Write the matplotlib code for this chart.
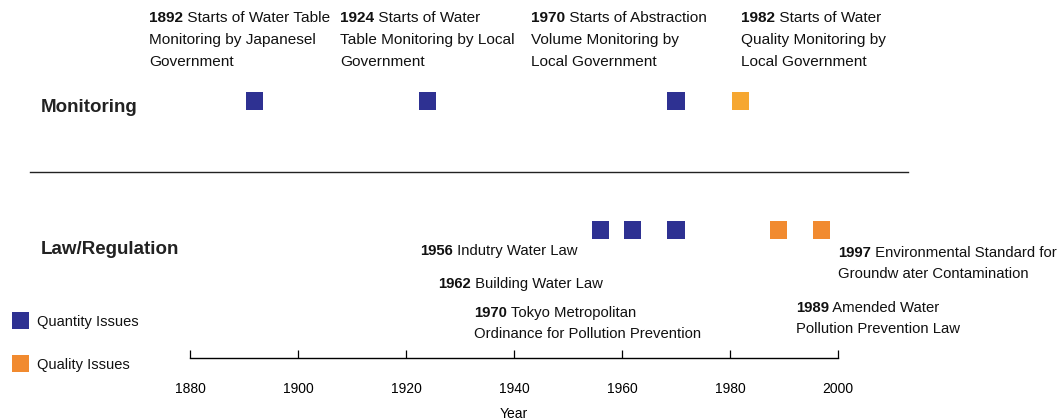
import matplotlib
matplotlib.use('Agg')
import matplotlib.pyplot as plt
import matplotlib.transforms as mtransforms

# data
monitor_years = [1892, 1924, 1970, 1982]
monitor_issue = ['Quantity', 'Quantity', 'Quantity', 'Quality']
monitor_text = [
    ['Starts of Water Table', 'Monitoring by Japanesel', 'Government'],
    ['Starts of Water', 'Table Monitoring by Local', 'Government'],
    ['Starts of Abstraction', 'Volume Monitoring by', 'Local Government'],
    ['Starts of Water', 'Quality Monitoring by', 'Local Government'],
]
law_years = [1956, 1962, 1970, 1989, 1997]
law_issue = ['Quantity', 'Quantity', 'Quantity', 'Quality', 'Quality']
law_text = [
    ['Indutry Water Law'],
    ['Building Water Law'],
    ['Tokyo Metropolitan', 'Ordinance for Pollution Prevention'],
    ['Amended Water', 'Pollution Prevention Law'],
    ['Environmental Standard for', 'Groundw ater Contamination'],
]
year_ticks = [1880, 1900, 1920, 1940, 1960, 1980, 2000]

blue = '#2e3192'
orange_law = '#f18a2f'
orange_mon = '#f6a731'
colors_mon = {'Quantity': blue, 'Quality': orange_mon}
colors_law = {'Quantity': blue, 'Quality': orange_law}

REG = ['Liberation Sans', 'DejaVu Sans']

W, H = 1064, 420
fig = plt.figure(figsize=(W / 100, H / 100), dpi=100)
# pixel transform, origin top-left
pix = mtransforms.Affine2D().scale(1 / 100, -1 / 100).translate(0, H / 100) + fig.dpi_scale_trans

# main axes in year / pixel-row units
x0, x1 = 190, 838
ppy = (x1 - x0) / (2000 - 1880)
ax = fig.add_axes([0, 0, 1, 1])
ax.set_xlim(1880 - x0 / ppy, 1880 + (W - x0) / ppy)
ax.set_ylim(H, 0)
ax.axis('off')

# timeline axis
tl = fig.add_axes([x0 / W, (H - 358) / H, (x1 - x0) / W, 0.0001])
tl.set_xlim(1880, 2000)
tl.set_xticks(year_ticks)
for s in ['top', 'left', 'right']:
    tl.spines[s].set_visible(False)
tl.spines['bottom'].set_linewidth(1.0)
tl.set_yticks([])
tl.tick_params(axis='x', direction='in', length=6, width=0.9, pad=17, labelsize=10)
for lab in tl.get_xticklabels():
    lab.set_family(REG)
tl.set_xlabel('Year', family=REG, fontsize=10, labelpad=8)
tl.patch.set_visible(False)

# markers
ax.scatter(monitor_years, [101] * len(monitor_years), marker='s', s=150,
           c=[colors_mon[i] for i in monitor_issue], linewidths=0, clip_on=False)
ax.scatter(law_years, [230] * len(law_years), marker='s', s=150,
           c=[colors_law[i] for i in law_issue], linewidths=0, clip_on=False)

# row titles and separator
ax.text(41, 108, 'Monitoring', transform=pix, fontsize=13.5, fontweight='bold',
        family=REG, va='center', color='#222222')
ax.text(41, 250, 'Law/Regulation', transform=pix, fontsize=13.5, fontweight='bold',
        family=REG, va='center', color='#222222')
ax.plot([30, 908], [172, 172], transform=pix, color='#222222', lw=1.0)


def label(x, y, year, lines, size, step):
    t = ax.text(x, y, str(year), transform=pix, fontsize=size, fontweight='bold',
                family=REG, va='center', color='#111111')
    ax.annotate(' ' + lines[0], xy=(1, 0.5), xycoords=t, va='center', ha='left',
                fontsize=size, family=REG, color='#111111')
    for k, ln in enumerate(lines[1:]):
        ax.text(x, y + step * (k + 1), ln, transform=pix, fontsize=size,
                family=REG, va='center', color='#111111')


mon_pos = [(149, 18), (340, 18), (531, 18), (741, 18)]
for (x, y), yr, lines in zip(mon_pos, monitor_years, monitor_text):
    label(x, y, yr, lines, 11.1, 22)

law_pos = [(420, 251), (438, 284), (474, 313), (796, 308), (838, 253)]
for (x, y), yr, lines in zip(law_pos, law_years, law_text):
    label(x, y, yr, lines, 10.7, 21)

# legend
leg = [('Quantity Issues', blue, 321), ('Quality Issues', orange_law, 364)]
for name, col, y in leg:
    ax.add_patch(plt.Rectangle((12, y - 9), 17, 17, transform=pix, color=col, lw=0))
    ax.text(37, y + 1, name, transform=pix, fontsize=10.5, family=REG, va='center',
            color='#111111')

fig.savefig('out.png', dpi=100)
